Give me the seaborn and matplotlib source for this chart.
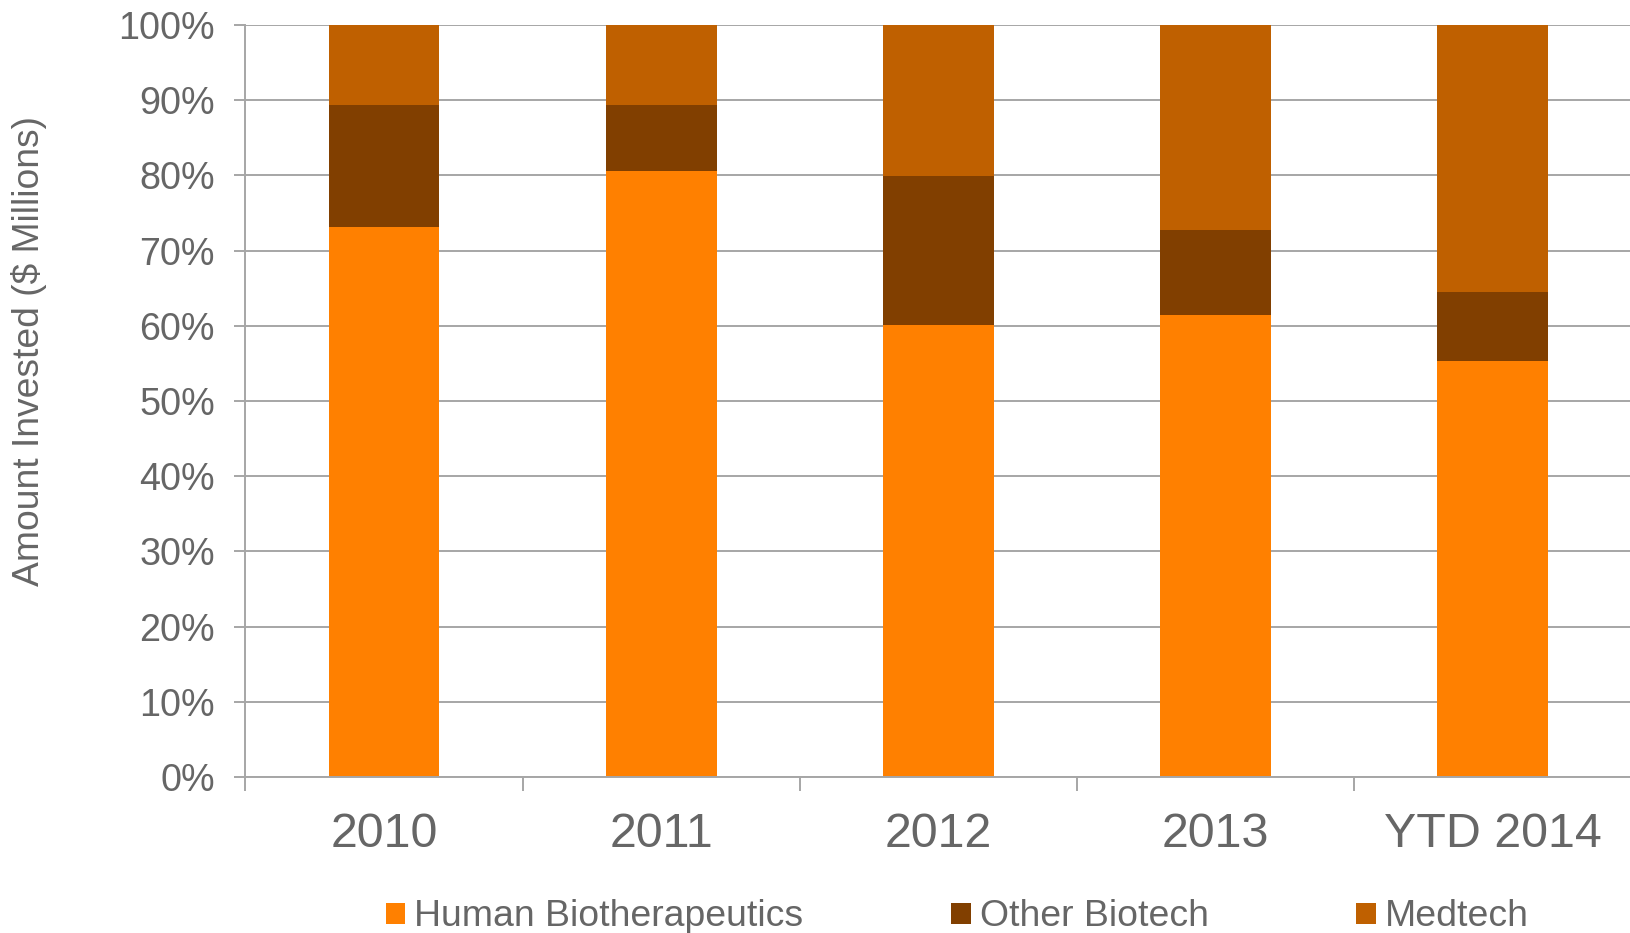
import matplotlib
matplotlib.use("Agg")
import matplotlib.pyplot as plt
from matplotlib.patches import Patch
from matplotlib.ticker import PercentFormatter, FixedLocator
import numpy as np
import pandas as pd
import seaborn as sns

# Share of amount invested by sector (percent of yearly total)
periods = ["2010", "2011", "2012", "2013", "YTD 2014"]
human_bio = [73.2, 80.6, 60.1, 61.4, 55.3]
other_bio = [16.1, 8.8, 19.8, 11.3, 9.2]
medtech = [10.7, 10.6, 20.1, 27.3, 35.5]
series_names = ["Human Biotherapeutics", "Other Biotech", "Medtech"]
y_ticks = [0, 10, 20, 30, 40, 50, 60, 70, 80, 90, 100]

C_HUMAN = "#FF8000"
C_OTHER = "#813F00"
C_MED = "#BF6000"
TEXT = "#666666"
GRID = "#A6A6A6"

sns.set_style("white")
plt.rcParams["font.family"] = ["Liberation Sans", "DejaVu Sans"]

df = pd.DataFrame({"period": periods, "human": human_bio,
                   "other": other_bio, "medtech": medtech})
df["top_other"] = df["human"] + df["other"]
df["top_med"] = df["top_other"] + df["medtech"]

fig = plt.figure(figsize=(16.31, 9.33), dpi=100)
ax = fig.add_axes([0.1505, 0.1672, 0.8495, 0.806])

# Stacked bars: draw cumulative heights from the top layer down
for col, colr in [("top_med", C_MED), ("top_other", C_OTHER), ("human", C_HUMAN)]:
    sns.barplot(data=df, x="period", y=col, color=colr, width=0.4,
                saturation=1, errorbar=None, ax=ax, linewidth=0)

ax.set_xlim(-0.5, len(periods) - 0.5)
ax.set_ylim(0, 100)
ax.set_axisbelow(True)

ax.yaxis.set_major_locator(FixedLocator(y_ticks))
ax.yaxis.set_major_formatter(PercentFormatter(decimals=0))
ax.yaxis.grid(True, color=GRID, linewidth=1.4)
ax.xaxis.grid(False)

for side in ["top", "right"]:
    ax.spines[side].set_visible(False)
for side in ["left", "bottom"]:
    ax.spines[side].set_color(GRID)
    ax.spines[side].set_linewidth(1.4)

ax.tick_params(axis="y", which="major", left=True, direction="out", length=8,
               width=1.4, color=GRID, labelsize=27.2, labelcolor=TEXT, pad=14)
ax.tick_params(axis="x", which="major", length=0, labelsize=34.8,
               labelcolor=TEXT, pad=25.5)
ax.set_xticks(np.arange(-0.5, len(periods) - 0.5), minor=True)
ax.tick_params(axis="x", which="minor", bottom=True, direction="out", length=10,
               width=1.4, color=GRID)

ax.set_xlabel("")
ax.set_ylabel("Amount Invested ($ Millions)", fontsize=26.8, color=TEXT,
              va="center")
ax.yaxis.set_label_coords(-0.156, 0.566)

handles = [Patch(facecolor=c, edgecolor="none") for c in (C_HUMAN, C_OTHER, C_MED)]
leg = fig.legend(handles, series_names, loc="center", ncol=3,
                 bbox_to_anchor=(0.587, 0.0172), frameon=False, fontsize=26.9,
                 handlelength=0.52, handleheight=0.5, handletextpad=0.25,
                 columnspacing=3.95, borderpad=0, borderaxespad=0)
for t in leg.get_texts():
    t.set_color(TEXT)

fig.savefig("out.png", dpi=100)
